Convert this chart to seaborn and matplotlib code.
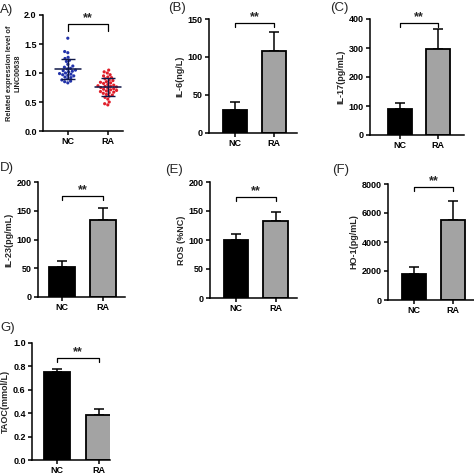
import numpy as np
import pandas as pd
import seaborn as sns
import matplotlib.pyplot as plt

# panel A - individual values
nc_points = [1.60, 1.37, 1.35, 1.27, 1.25, 1.22, 1.20, 1.15, 1.12, 1.10, 1.08, 1.07,
             1.05, 1.04, 1.03, 1.02, 1.00, 0.99, 0.98, 0.97, 0.96, 0.95, 0.93, 0.92,
             0.90, 0.88, 0.86, 0.85, 0.83]
ra_points = [1.05, 1.02, 1.00, 0.97, 0.95, 0.93, 0.92, 0.90, 0.88, 0.87, 0.85, 0.84,
             0.83, 0.82, 0.80, 0.79, 0.78, 0.77, 0.77, 0.76, 0.75, 0.74, 0.73, 0.72,
             0.71, 0.70, 0.69, 0.68, 0.67, 0.66, 0.65, 0.63, 0.62, 0.60, 0.58, 0.55,
             0.50, 0.47, 0.45]

groups = ["NC", "RA"]

# panels B-G: mean and SD for NC, RA
il6_mean = [30, 108]
il6_sd = [11, 25]
il17_mean = [90, 297]
il17_sd = [22, 70]
il23_mean = [52, 134]
il23_sd = [10, 20]
ros_mean = [100, 132]
ros_sd = [11, 16]
ho1_mean = [1800, 5550]
ho1_sd = [500, 1250]
taoc_mean = [0.75, 0.385]
taoc_sd = [0.025, 0.05]

sns.set_style("ticks")
plt.rcParams['font.family'] = ['Liberation Sans', 'DejaVu Sans']
plt.rcParams['font.weight'] = 'bold'

fig = plt.figure(figsize=(4.74, 4.74), dpi=100)
W = 474.0


def box(left, right, top, bottom):
    return [left / W, 1 - bottom / W, (right - left) / W, (bottom - top) / W]


def style(ax, ymax, step, ylabel, xlim, lsize=6.5):
    ax.set_ylim(0, ymax)
    ax.set_yticks(np.arange(0, ymax + step / 2, step))
    ax.set_xlim(*xlim)
    sns.despine(ax=ax)
    for s in ["left", "bottom"]:
        ax.spines[s].set_linewidth(1.1)
        ax.spines[s].set_color("black")
    ax.tick_params(axis="both", labelsize=6.5, width=1.1, length=3, pad=1.5, colors="black")
    ax.set_xlabel("")
    ax.set_ylabel(ylabel, fontsize=lsize, fontweight="bold", labelpad=2)
    for t in ax.get_xticklabels() + ax.get_yticklabels():
        t.set_fontweight("bold")


def bracket(ax, y, h):
    ax.plot([0, 0, 1, 1], [y - h, y, y, y - h], color="black", lw=0.9)
    ax.text(0.5, y, "**", ha="center", va="bottom", fontsize=9, fontweight="bold")


def barpanel(rect, means, sds, ymax, step, ylabel, xlim, by):
    ax = fig.add_axes(rect)
    df = pd.DataFrame({"group": groups, "value": means})
    sns.barplot(data=df, x="group", y="value", hue="group", palette=["black", "#a3a3a3"],
                errorbar=None, width=0.62, edgecolor="black", linewidth=1.3,
                legend=False, ax=ax, zorder=2)
    ax.errorbar([0, 1], means, yerr=[[0, 0], sds], fmt="none", ecolor="black",
                elinewidth=1.1, capsize=3.3, capthick=1.1, zorder=1)
    style(ax, ymax, step, ylabel, xlim)
    bracket(ax, by, ymax * 0.035)
    return ax


# (A) dot plot
axA = fig.add_axes(box(43, 123, 15, 131))
dfA = pd.DataFrame({"group": ["NC"] * len(nc_points) + ["RA"] * len(ra_points),
                    "value": nc_points + ra_points})
sns.swarmplot(data=dfA, x="group", y="value", hue="group", palette=["#2233aa", "#e01f2b"],
              size=2.3, legend=False, ax=axA)
for i, pts in enumerate([nc_points, ra_points]):
    m, s = np.mean(pts), np.std(pts, ddof=1)
    axA.plot([i - 0.33, i + 0.33], [m, m], color="#101848", lw=1.1, zorder=5)
    axA.errorbar([i], [m], yerr=[s], fmt="none", ecolor="#101848", elinewidth=1.0,
                 capsize=4.7, capthick=1.0, zorder=5)
style(axA, 2.0, 0.5, "Related expression level of\nLINC00638", (-0.62, 1.38), lsize=5.3)
bracket(axA, 1.84, 0.12)

barpanel(box(209, 297, 19, 133), il6_mean, il6_sd, 150, 50, "IL-6(ng/L)", (-0.67, 1.6), 145)
barpanel(box(370, 464, 19, 135), il17_mean, il17_sd, 400, 100, "IL-17(pg/mL)", (-0.79, 1.68), 386)
barpanel(box(38, 125, 182, 297), il23_mean, il23_sd, 200, 50, "IL-23(pg/mL)", (-0.59, 1.54), 176)
barpanel(box(210, 297, 182, 298), ros_mean, ros_sd, 200, 50, "ROS (%NC)", (-0.65, 1.53), 174)
barpanel(box(388, 476, 184, 300), ho1_mean, ho1_sd, 8000, 2000, "HO-1(pg/mL)", (-0.67, 1.6), 7790)
barpanel(box(32, 110, 343, 460), taoc_mean, taoc_sd, 1.0, 0.2, "TAOC(mmol/L)", (-0.6, 1.26), 0.87)

# panel letters (left ones are cropped in the source image)
for lab, x, y in [("A)", 0, 10), ("(B)", 168, 8), ("(C)", 330, 8), ("D)", 0, 168),
                  ("(E)", 165, 170), ("(F)", 332, 170), ("G)", 0, 328)]:
    fig.text(x / W, 1 - y / W, lab, fontsize=9.5, fontweight="normal", ha="left", va="center")

fig.savefig("out.png", dpi=100)
